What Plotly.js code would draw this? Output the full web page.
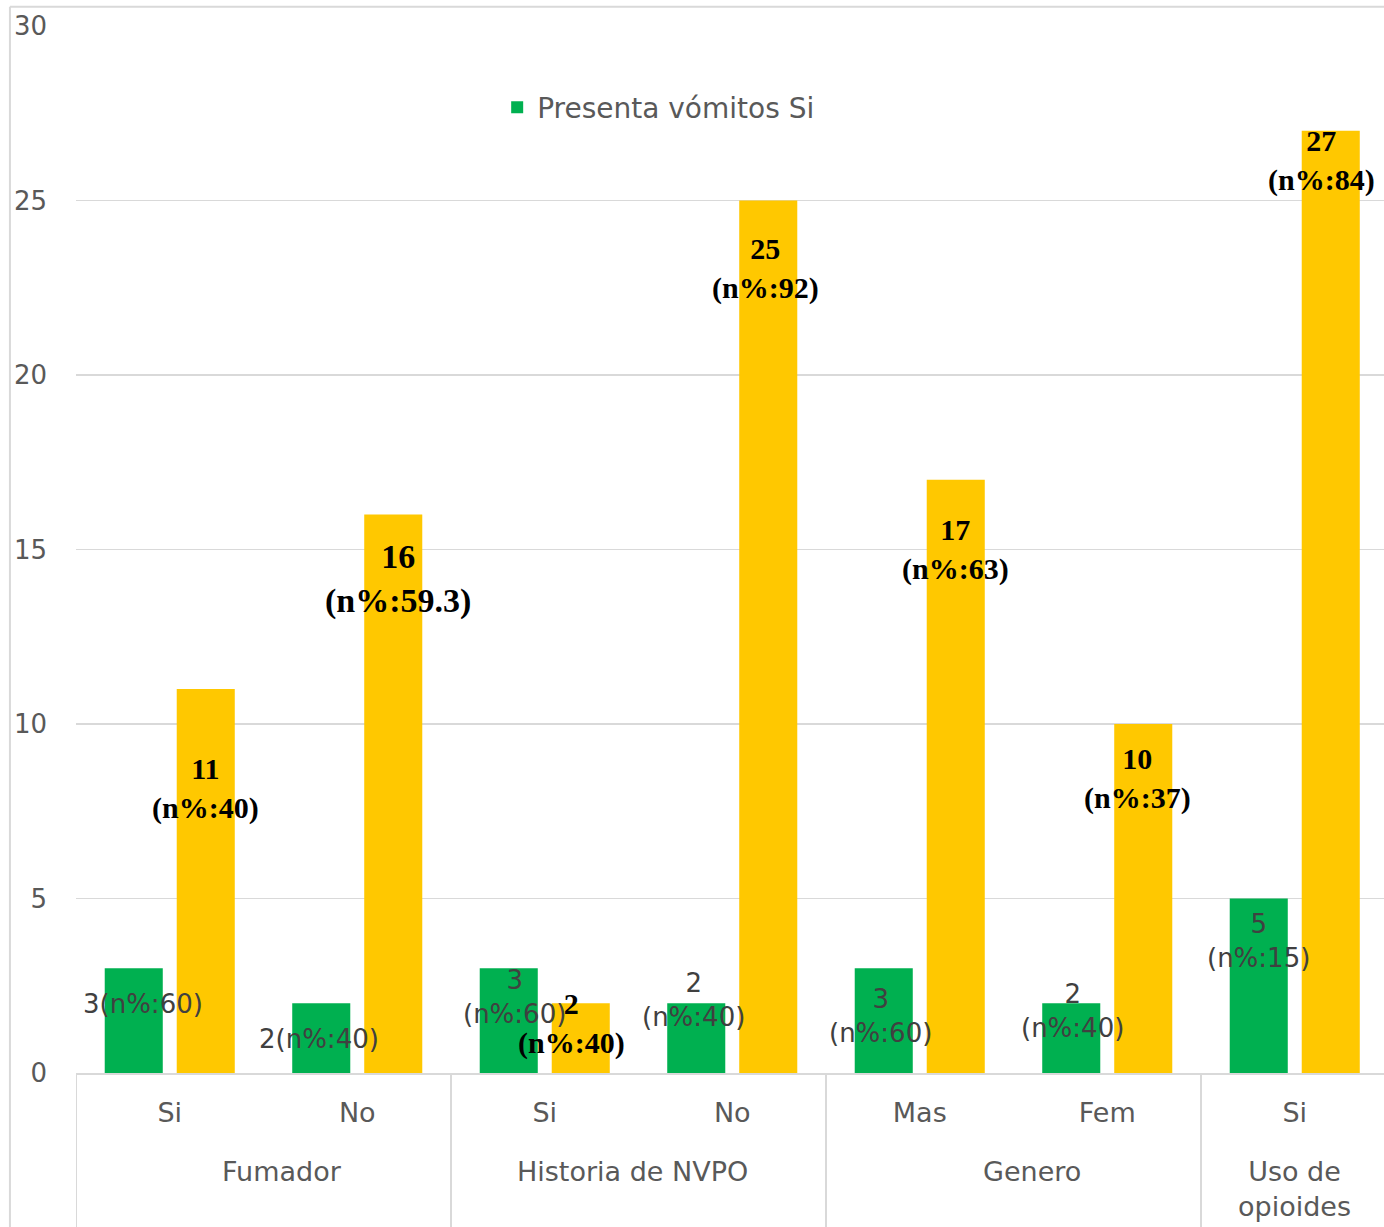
<!DOCTYPE html>
<html>
<head>
<meta charset="utf-8">
<script src="https://cdn.plot.ly/plotly-3.0.1.min.js"></script>
<style>
  html, body { margin: 0; padding: 0; background: #ffffff; }
  #chart { width: 1384px; height: 1227px; }
</style>
</head>
<body>
<div id="chart"></div>
<script>
// Sub-categories and the groups they belong to
const subs = ['Si', 'No', 'Si', 'No', 'Mas', 'Fem', 'Si'];
const groupNames = ['Fumador', 'Historia de NVPO', 'Genero', 'Uso de<br>opioides'];
const groupStart = [0, 2, 4, 6];   // first sub-category index of each group
const groupSize = [2, 2, 2, 1];

// Counts and percentages
const vomitSi = [3, 2, 3, 2, 3, 2, 5];
const vomitSiPct = [60, 40, 60, 40, 60, 40, 15];
const vomitNo = [11, 16, 2, 25, 17, 10, 27];
const vomitNoPct = [40, 59.3, 40, 92, 63, 37, 84];

// Y axis ticks
const yTicks = [0, 5, 10, 15, 20, 25, 30];

// Label placement (offsets from each category index / bar top)
const greenDx = [-0.143, -0.204, -0.159, -0.209, -0.212, -0.183, -0.196];
const greenDy = [-1.02, -1.03, -0.81, 0.08, -1.37, -0.22, -1.23];
const greenSep = ['', '', '<br>', '<br>', '<br>', '<br>', '<br>'];
const yellowDx = [0.188, 0.217, 0.14, 0.175, 0.188, 0.159, 0.145];
const yellowDy = [-2.86, -1.85, -0.57, -1.95, -1.99, -1.56, -0.85];
const yellowSize = [30, 34, 30, 30, 30, 30, 30];
const groupDx = [0.1, -0.03, 0.1, 0.0];

const GREEN = '#00B050';
const GOLD = '#FFC800';
const GRID = '#d9d9d9';
const TXT = '#595959';
const SANS = 'DejaVu Sans, Verdana, sans-serif';
const SERIF = 'Liberation Serif, Times New Roman, serif';

const idx = subs.map((_, i) => i);

const traces = [
  {
    type: 'bar', name: 'Presenta vómitos Si',
    x: idx, y: vomitSi,
    marker: { color: GREEN },
    hoverinfo: 'skip'
  },
  {
    type: 'bar', name: 'Presenta vómitos No',
    x: idx, y: vomitNo,
    marker: { color: GOLD },
    showlegend: false,
    hoverinfo: 'skip'
  }
];

const xRange = [-0.5, 6.476];

const annotations = [];
idx.forEach(i => {
  annotations.push({
    xref: 'x', yref: 'y',
    x: i + greenDx[i], y: vomitSi[i] + greenDy[i],
    text: vomitSi[i] + greenSep[i] + '(n%:' + vomitSiPct[i] + ')',
    showarrow: false, xanchor: 'center', yanchor: 'middle',
    font: { family: SANS, size: 26, color: '#404040' }
  });
  annotations.push({
    xref: 'x', yref: 'y',
    x: i + yellowDx[i], y: vomitNo[i] + yellowDy[i],
    text: vomitNo[i] + '<br>(n%:' + vomitNoPct[i] + ')',
    showarrow: false, xanchor: 'center', yanchor: 'middle',
    font: { family: SERIF, size: yellowSize[i], color: '#000000', weight: 'bold' }
  });
});

// group labels under the sub-category labels
groupNames.forEach((g, k) => {
  annotations.push({
    xref: 'x', yref: 'paper',
    x: groupStart[k] + (groupSize[k] - 1) / 2 + groupDx[k], y: -0.077,
    text: g, showarrow: false, xanchor: 'center', yanchor: 'top',
    font: { family: SANS, size: 27, color: TXT }
  });
});

// group dividers
const shapes = [];
groupStart.concat([groupStart[3] + groupSize[3]]).forEach(s => {
  shapes.push({
    type: 'line', xref: 'x', yref: 'paper',
    x0: s - 0.5, x1: s - 0.5, y0: 0, y1: -0.3,
    line: { color: GRID, width: 2 }
  });
});
// outer frame (left and top edges)
shapes.push(
  { type: 'line', xref: 'paper', yref: 'paper', x0: -0.0505, x1: -0.0505, y0: -0.3, y1: 1.0185,
    line: { color: GRID, width: 2 } },
  { type: 'line', xref: 'paper', yref: 'paper', x0: -0.0505, x1: 1.1, y0: 1.0185, y1: 1.0185,
    line: { color: GRID, width: 2 } }
);

const layout = {
  width: 1384, height: 1227,
  margin: { l: 76, r: 0, t: 26, b: 154, pad: 0 },
  paper_bgcolor: '#ffffff', plot_bgcolor: '#ffffff',
  barmode: 'group', bargap: 0.232, bargroupgap: 0.194,
  showlegend: true,
  legend: {
    x: 0.322, xanchor: 'left', y: 0.922, yanchor: 'middle',
    font: { family: SANS, size: 28, color: TXT },
    bgcolor: 'rgba(0,0,0,0)'
  },
  xaxis: {
    range: xRange,
    tickvals: idx, ticktext: subs,
    showline: true, linecolor: GRID, linewidth: 2,
    ticks: '', showgrid: false, zeroline: false,
    ticklabelstandoff: 15,
    tickfont: { family: SANS, size: 27, color: TXT }
  },
  yaxis: {
    range: [0, 30], tickvals: yTicks, ticktext: yTicks.map(String),
    showgrid: true, gridcolor: GRID, gridwidth: 1.5,
    showline: false, zeroline: false, ticks: '',
    ticklabelstandoff: 28,
    tickfont: { family: SANS, size: 26, color: TXT }
  },
  shapes: shapes,
  annotations: annotations
};

Plotly.newPlot('chart', traces, layout, { displayModeBar: false, staticPlot: true });
</script>
</body>
</html>
